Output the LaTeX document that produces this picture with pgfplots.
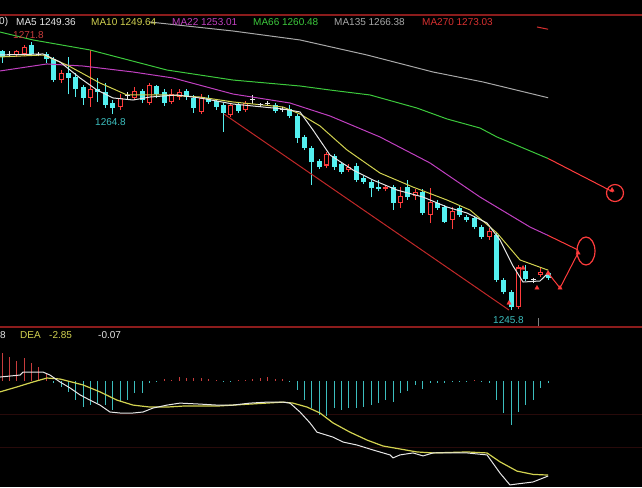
\documentclass[border=0pt]{standalone}
\usepackage{pgfplots}
\pgfplotsset{compat=1.18}
\usepackage{pgfplotstable}
\usepackage{fontspec}
\setmainfont{Liberation Sans}

\definecolor{upc}{HTML}{FF3C3C}
\definecolor{chan}{HTML}{C02828}
\definecolor{dnc}{HTML}{54F0F0}
\definecolor{ma5}{HTML}{E6E6E6}
\definecolor{ma10}{HTML}{D2D250}
\definecolor{ma22}{HTML}{C040C0}
\definecolor{ma66}{HTML}{3CC83C}
\definecolor{ma135}{HTML}{A8A8A8}
\definecolor{ma270}{HTML}{D83030}
\definecolor{framec}{HTML}{8C1C1C}
\definecolor{gridc}{HTML}{280A0A}
\definecolor{histup}{HTML}{C83C3C}
\definecolor{histdn}{HTML}{3CBEBE}

% up candles (red, hollow)
\pgfplotstableread{
i  O      H      L      C
2  1270.5 1271.0 1270.3 1270.9
3  1270.6 1271.5 1270.4 1271.3
8  1268.1 1269.1 1267.8 1268.8
12 1266.4 1271.0 1265.5 1267.2
16 1265.5 1266.7 1265.2 1266.4
18 1266.4 1267.4 1266.2 1267.0
20 1265.9 1267.8 1265.7 1267.6
23 1266.0 1267.2 1265.8 1266.7
24 1266.5 1267.2 1266.2 1266.9
27 1265.0 1266.7 1264.8 1266.4
31 1264.7 1265.9 1264.5 1265.7
33 1265.2 1266.1 1265.0 1265.9
44 1259.8 1261.1 1259.6 1260.9
47 1259.4 1259.9 1259.2 1259.7
52 1257.5 1257.9 1257.3 1257.7
54 1256.2 1257.7 1255.7 1256.8
56 1256.8 1257.5 1256.5 1257.2
58 1255.0 1257.6 1254.2 1256.3
61 1254.5 1255.8 1253.6 1255.4
66 1252.9 1253.7 1252.6 1253.4
70 1246.1 1250.1 1245.9 1249.9
73 1249.2 1249.9 1249.0 1249.5
}\candlesup

% down candles (cyan, filled)
\pgfplotstableread{
i  O      H      L      C
0  1270.9 1271.0 1269.8 1270.3
4  1271.5 1271.8 1270.4 1270.6
6  1270.6 1270.8 1269.8 1270.1
7  1270.1 1270.3 1267.9 1268.1
9  1268.8 1270.3 1266.7 1268.3
10 1268.4 1268.8 1266.5 1267.2
11 1267.4 1267.6 1265.7 1266.4
13 1267.2 1268.3 1266.0 1266.9
14 1266.9 1267.8 1265.4 1265.7
15 1265.9 1266.2 1264.8 1265.4
19 1267.0 1267.2 1265.9 1266.2
21 1267.5 1267.6 1266.4 1266.7
22 1266.9 1267.2 1265.6 1265.9
25 1267.0 1267.2 1266.2 1266.5
26 1266.4 1266.6 1264.9 1265.4
28 1266.4 1266.6 1265.8 1266.0
29 1266.1 1266.3 1265.2 1265.5
30 1265.7 1265.9 1263.1 1264.9
32 1265.7 1265.9 1264.9 1265.1
37 1265.7 1265.9 1264.9 1265.1
39 1265.3 1265.7 1264.4 1264.6
40 1264.6 1264.8 1262.0 1262.5
41 1262.6 1262.8 1261.3 1261.5
42 1261.5 1261.7 1257.9 1260.1
43 1260.2 1260.4 1259.5 1259.7
45 1260.7 1260.9 1259.4 1259.7
46 1259.9 1260.1 1259.0 1259.2
48 1259.8 1260.0 1258.2 1258.4
49 1258.6 1258.8 1258.0 1258.2
50 1258.2 1258.4 1256.7 1257.6
51 1257.7 1258.4 1257.3 1257.5
53 1257.7 1257.9 1255.5 1256.2
55 1257.7 1258.4 1256.5 1256.7
57 1257.2 1257.5 1255.0 1255.2
59 1256.2 1256.5 1255.5 1255.7
60 1255.8 1256.0 1254.2 1254.3
62 1255.7 1255.9 1254.8 1255.0
63 1254.8 1255.0 1254.3 1254.5
64 1254.7 1254.9 1253.6 1253.8
65 1253.8 1254.0 1252.7 1252.9
67 1253.1 1253.3 1248.5 1248.7
68 1248.7 1248.9 1247.3 1247.5
69 1247.5 1247.7 1245.8 1246.1
71 1249.6 1250.1 1248.6 1248.8
74 1249.4 1249.6 1248.7 1248.9
}\candlesdn

% doji candles
\pgfplotstableread{
i  P      H      L
1  1270.6 1270.9 1270.3
5  1270.6 1270.8 1270.4
17 1266.6 1266.9 1266.2
34 1266.2 1266.6 1265.8
35 1265.7 1265.9 1265.5
36 1265.8 1266.1 1265.6
38 1265.2 1265.5 1265.0
72 1248.7 1248.9 1248.4
}\candlesdj

\pgfplotsset{
  panel/.style={hide axis, scale only axis, width=642pt, xmin=-0.271, xmax=86.72,
    anchor=south west, clip=true},
  bars/.style 2 args={draw=none, mark=none, error bars/.cd, y dir=plus, y explicit,
    error mark=none, error bar style={draw=#1, line width=#2}},
}

\begin{document}
\begin{tikzpicture}
\fill[black] (0pt,0pt) rectangle (642pt,487pt);

\begin{axis}[panel, at={(0pt,161pt)}, height=326pt, ymin=1244.22, ymax=1275.87]
% wicks
\addplot[bars={dnc}{1pt}] table[x=i, y=L, y error expr=\thisrow{H}-\thisrow{L}] {\candlesdn};
\addplot[bars={upc}{1pt}] table[x=i, y=L, y error expr=\thisrow{H}-\thisrow{L}] {\candlesup};
\addplot[bars={ma5}{1pt}] table[x=i, y=L, y error expr=\thisrow{H}-\thisrow{L}] {\candlesdj};
% bodies
\addplot[bars={dnc}{5pt}] table[x=i, y=C, y error expr=\thisrow{O}-\thisrow{C}] {\candlesdn};
\addplot[bars={upc}{5pt}] table[x=i, y=O, y error expr=\thisrow{C}-\thisrow{O}] {\candlesup};
\addplot[bars={black}{3pt}] table[x=i, y expr=\thisrow{O}+0.1, y error expr=\thisrow{C}-\thisrow{O}-0.2] {\candlesup};
\addplot[only marks, mark=-, mark size=2.5pt, mark options={draw=ma5, line width=1pt}] table[x=i, y=P] {\candlesdj};

% moving averages
\addplot[ma135, line width=1pt] coordinates {(20.05,1273.73) (31.30,1272.86) (40.38,1271.99) (49.46,1270.53) (58.40,1268.88) (65.18,1267.91) (74,1266.38)};
\addplot[ma66, line width=1pt] coordinates {(-0.27,1272.76) (4.20,1271.99) (11.92,1271.02) (22.36,1269.07) (31.30,1268.10) (40.38,1267.52) (44.44,1267.13) (49.86,1266.65) (56.23,1265.38) (60.30,1264.32) (64.77,1263.44) (67.07,1262.57) (74,1260.48)};
\addplot[ma22, line width=1pt] coordinates {(-0.27,1268.98) (6.10,1269.66) (10.98,1269.46) (17.75,1268.88) (23.17,1268.30) (31.30,1266.74) (39.02,1265.87) (44.44,1264.61) (51.22,1262.57) (57.99,1260.05) (64.77,1256.74) (71.54,1253.83) (74,1253.01)};
\addplot[ma10, line width=1pt] coordinates {(-0.27,1270.34) (5.56,1270.53) (8.81,1269.56) (13.28,1267.81) (16.94,1266.65) (22.36,1266.65) (26.83,1266.45) (31.30,1265.97) (38.08,1265.48) (40.38,1264.80) (43.09,1263.64) (46.75,1261.31) (51.22,1259.07) (55.69,1257.71) (60.30,1256.45) (63.41,1255.48) (67.07,1253.25) (70.19,1250.63) (74,1249.64)};
\addplot[ma5, line width=1pt] coordinates {(-0.27,1270.53) (5.56,1270.63) (7.86,1269.85) (10.57,1268.30) (12.87,1267.13) (15.04,1266.36) (17.75,1266.16) (20.05,1266.45) (23.71,1266.65) (26.83,1266.36) (31.30,1265.77) (38.08,1265.29) (40.38,1265.00) (42.14,1263.25) (44.44,1260.82) (47.56,1259.37) (50.27,1258.39) (53.52,1257.42) (57.05,1256.74) (60.30,1255.77) (63.01,1255.19) (65.72,1254.22) (67.48,1252.57) (69.24,1250.05) (70.60,1248.49) (72.90,1248.59) (74,1249.36)};
\addplot[ma270, line width=1pt] coordinates {(72.49,1273.25) (74,1273.03)};

% hand-drawn annotations
\addplot[chan, line width=1pt] coordinates {(30.08,1264.80) (68.70,1245.77)};
\addplot[upc, line width=1pt] coordinates {(74,1260.48) (82.80,1257.23)};
\addplot[upc, line width=1pt] coordinates {(74,1253.01) (78.05,1251.60)};
\addplot[upc, line width=1pt] coordinates {(74,1249.36) (75.61,1247.91) (78.05,1251.31)};
\addplot[only marks, mark=triangle*, mark size=2.5pt, upc] coordinates {(68.70,1246.45) (70.60,1249.85) (72.49,1247.91) (74,1249.36) (75.61,1247.91) (78.05,1251.31) (82.66,1257.42)};
\draw[upc, line width=1.2pt] (axis cs:79.13,1251.5) ellipse [x radius=9pt, y radius=14pt];
\draw[upc, line width=1.2pt] (axis cs:83.06,1257.13) circle [radius=8.5pt];
\end{axis}

\begin{axis}[panel, at={(0pt,0pt)}, height=160pt, ymin=-3.212, ymax=1.636]
\draw[gridc] (axis cs:-0.271,-1) -- (axis cs:86.72,-1);
\draw[gridc] (axis cs:-0.271,-2) -- (axis cs:86.72,-2);
\addplot[ycomb, histup, line width=1pt, mark=none] coordinates {(0,0.85) (1,0.73) (2,0.61) (3,0.70) (4,0.55) (5,0.42) (6,0.24) (22,0.06) (23,0.03) (24,0.12) (25,0.09) (26,0.09) (27,0.09) (28,0.06) (29,0.03) (32,0.03) (33,0.03) (34,0.06) (35,0.09) (36,0.12) (37,0.06) (38,0.06) (64,0.02)};
\addplot[ycomb, histdn, line width=1pt, mark=none] coordinates {(7,-0.06) (8,-0.18) (9,-0.33) (10,-0.58) (11,-0.79) (12,-0.73) (13,-0.67) (14,-0.73) (15,-0.88) (16,-0.64) (17,-0.58) (18,-0.36) (19,-0.36) (20,-0.06) (21,-0.02) (30,-0.03) (31,-0.02) (39,-0.03) (40,-0.27) (41,-0.58) (42,-0.82) (43,-1.03) (44,-1.06) (45,-0.82) (46,-0.88) (47,-0.82) (48,-0.82) (49,-0.79) (50,-0.73) (51,-0.67) (52,-0.58) (53,-0.64) (54,-0.36) (55,-0.30) (56,-0.12) (57,-0.24) (58,-0.06) (59,-0.06) (60,-0.06) (61,-0.03) (62,-0.03) (63,-0.02) (65,-0.03) (66,-0.06) (67,-0.58) (68,-0.97) (69,-1.33) (70,-0.94) (71,-0.73) (72,-0.58) (73,-0.21) (74,-0.07)};
% DEA
\addplot[ma10, line width=1.2pt] coordinates {(-0.27,-0.33) (2.03,-0.18) (4.20,-0.03) (6.10,0.09) (7.86,0.06) (10.98,-0.12) (13.28,-0.33) (15.58,-0.58) (17.75,-0.73) (20.05,-0.79) (22.36,-0.79) (24.53,-0.76) (29.13,-0.76) (33.60,-0.70) (38.08,-0.64) (39.43,-0.67) (41.33,-0.79) (43.09,-0.97) (44.85,-1.27) (47.15,-1.55) (49.46,-1.79) (51.63,-1.97) (53.93,-2.06) (56.23,-2.15) (58.40,-2.18) (63.01,-2.15) (65.72,-2.18) (67.48,-2.45) (69.78,-2.73) (71.95,-2.83) (74,-2.85)};
% DIF
\addplot[ma5, line width=1pt] coordinates {(-0.27,0.12) (2.44,0.18) (2.85,0.27) (5.56,0.27) (6.50,0.18) (7.86,-0.03) (9.21,-0.21) (10.57,-0.42) (11.92,-0.58) (13.28,-0.73) (14.63,-0.94) (15.99,-0.97) (17.75,-0.97) (19.11,-0.94) (20.46,-0.82) (22.36,-0.73) (24.12,-0.67) (26.83,-0.70) (29.13,-0.73) (31.30,-0.73) (33.60,-0.67) (35.91,-0.64) (38.08,-0.64) (39.02,-0.67) (40.38,-0.94) (41.73,-1.27) (42.68,-1.55) (44.85,-1.70) (46.21,-1.85) (48.10,-1.94) (50.27,-2.09) (52.57,-2.24) (52.98,-2.33) (53.93,-2.24) (55.69,-2.18) (57.05,-2.27) (58.40,-2.18) (60.70,-2.18) (63.01,-2.18) (65.72,-2.24) (67.48,-2.79) (68.83,-3.15) (69.78,-3.12) (71.95,-3.06) (74,-2.88)};
\end{axis}

% panel frame lines
\draw[framec, line width=1.2pt] (0pt,472pt) -- (642pt,472pt);
\draw[framec, line width=1.2pt] (0pt,160pt) -- (642pt,160pt);
\draw[gray] (538pt,161pt) -- (538pt,169pt);

% header texts
\begin{scope}[every node/.style={anchor=west, inner sep=0pt, font=\fontsize{10}{12}\selectfont}]
\node[text=ma5] at (-1pt,465pt) {0)};
\node[text=ma5] at (16pt,465pt) {MA5 1249.36};
\node[text=ma10] at (91pt,465pt) {MA10 1249.64};
\node[text=ma22] at (172pt,465pt) {MA22 1253.01};
\node[text=ma66] at (253pt,465pt) {MA66 1260.48};
\node[text=ma135] at (334pt,465pt) {MA135 1266.38};
\node[text=ma270] at (422pt,465pt) {MA270 1273.03};
\node[text=histup] at (13pt,452pt) {1271.8};
\node[text=histdn] at (95pt,365pt) {1264.8};
\node[text=histdn] at (493pt,167pt) {1245.8};
\node[text=ma5] at (0pt,152pt) {8};
\node[text=ma10] at (20pt,152pt) {DEA};
\node[text=ma10] at (49pt,152pt) {-2.85};
\node[text=ma5] at (98pt,152pt) {-0.07};
\end{scope}

\pgfresetboundingbox
\useasboundingbox (0pt,0pt) rectangle (642pt,487pt);
\end{tikzpicture}
\end{document}
